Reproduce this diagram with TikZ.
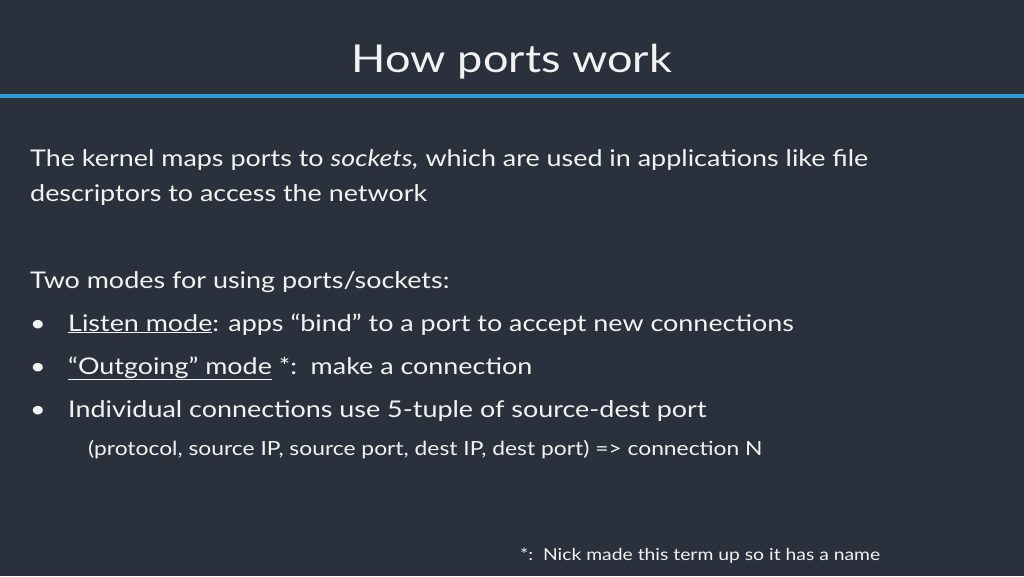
\documentclass[tikz,border=0pt]{standalone}
\usepackage{fontspec}
\setmainfont{Lato}[FakeStretch=1.17]
\definecolor{slidebg}{HTML}{2B313C}
\definecolor{rulebl}{HTML}{2E9BD6}
\definecolor{slidetx}{HTML}{F2F2F2}
\begin{document}
\begin{tikzpicture}[x=1pt, y=-1pt, text=slidetx]
    \tikzstyle{every node}=[inner sep=0pt, anchor=base west];
    \tikzstyle{body}=[font=\fontsize{23}{28}\selectfont];
    \tikzstyle{small}=[font=\fontsize{19.5}{22}\selectfont];

    \fill[slidebg] (0,0) rectangle (1024,576);
    \fill[rulebl] (0,94) rectangle (1024,98);

    \node at (512, 72) (title) [anchor=base, font=\fontsize{38.5}{44}\selectfont] {How ports work};

    \node at (30, 166) (intro1) [body] {The kernel maps ports to \textit{sockets,} which are used in applications like file};
    \node at (30, 201) (intro2) [body] {descriptors to access the network};

    \node at (30, 288) (modes) [body] {Two modes for using ports/sockets:};
    \node at (30, 331) (b1) [body] {•};
    \node at (68, 331) (listen) [body] {\underline{Listen mode}: apps “bind” to a port to accept new connections};
    \node at (30, 374) (b2) [body] {•};
    \node at (68, 374) (outgoing) [body] {\underline{“Outgoing” mode} *:\ \ make a connection};
    \node at (30, 417) (b3) [body] {•};
    \node at (68, 417) (indiv) [body] {Individual connections use 5-tuple of source-dest port};
    \node at (88, 455) (tuple) [small] {(protocol, source IP, source port, dest IP, dest port) => connection N};

    \node at (520, 560) (note) [font=\fontsize{16.5}{20}\selectfont] {*:\ \ Nick made this term up so it has a name};
\end{tikzpicture}
\end{document}
